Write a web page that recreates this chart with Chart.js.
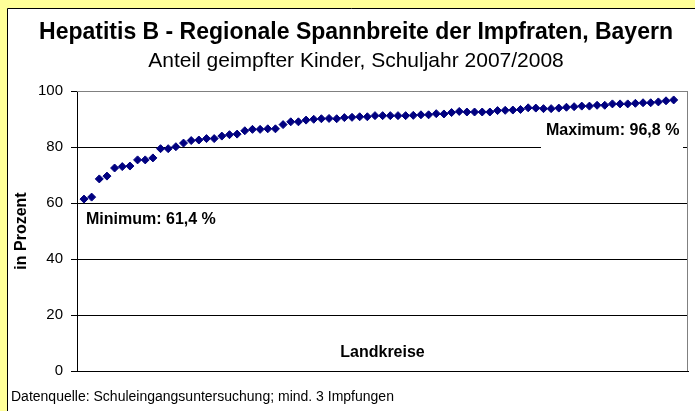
<!DOCTYPE html>
<html>
<head>
<meta charset="utf-8">
<script src="https://cdn.jsdelivr.net/npm/chart.js@4"></script>
<style>
  html, body { margin: 0; padding: 0; background: #ffff99; }
  #wrap { width: 695px; height: 411px; }
</style>
</head>
<body>
<div id="wrap"><canvas id="impfChart" width="695" height="411"></canvas></div>
<script>
// Impfraten je Landkreis, aufsteigend sortiert (Prozent)
const impfraten = [
    61.4, 62.1, 68.6, 69.6, 72.5, 73.0, 73.2, 75.4, 75.4, 76.1,
    79.4, 79.4, 80.1, 81.4, 82.3, 82.5, 83.0, 83.0, 83.9, 84.4,
    84.6, 85.8, 86.3, 86.3, 86.5, 86.5, 88.0, 89.0, 89.0, 89.6,
    89.9, 90.1, 90.2, 90.1, 90.5, 90.6, 90.8, 90.8, 91.2, 91.2,
    91.2, 91.2, 91.2, 91.3, 91.5, 91.5, 91.9, 91.8, 92.3, 92.7,
    92.5, 92.5, 92.5, 92.5, 93.0, 93.1, 93.2, 93.4, 94.0, 93.9,
    93.7, 93.7, 93.9, 94.2, 94.4, 94.6, 94.6, 94.9, 94.9, 95.4,
    95.4, 95.4, 95.6, 95.8, 95.8, 96.1, 96.5, 96.8
];
const yTicks = [0, 20, 40, 60, 80, 100];

const titel = 'Hepatitis B - Regionale Spannbreite der Impfraten, Bayern';
const untertitel = 'Anteil geimpfter Kinder, Schuljahr 2007/2008';
const quelle = 'Datenquelle: Schuleingangsuntersuchung; mind. 3 Impfungen';
const minText = 'Minimum: 61,4 %';
const maxText = 'Maximum: 96,8 %';

const FONT = 'Liberation Sans, Arial, sans-serif';

// Rahmen, Titel und Beschriftungen
const rahmenPlugin = {
    id: 'rahmen',
    beforeDraw(chart) {
        const ctx = chart.ctx;
        ctx.save();
        ctx.fillStyle = '#ffff99';
        ctx.fillRect(0, 0, chart.width, chart.height);
        ctx.fillStyle = '#ffffff';
        ctx.fillRect(7, 8, chart.width, chart.height);
        ctx.strokeStyle = '#000000';
        ctx.lineWidth = 1;
        ctx.beginPath();
        ctx.moveTo(7.5, chart.height);
        ctx.lineTo(7.5, 8.5);
        ctx.lineTo(chart.width, 8.5);
        ctx.stroke();

        ctx.fillStyle = '#000000';
        ctx.textAlign = 'center';
        ctx.textBaseline = 'middle';
        ctx.font = 'bold 23px ' + FONT;
        ctx.fillText(titel, 356, 33);
        ctx.font = '21px ' + FONT;
        ctx.fillText(untertitel, 356, 61);
        ctx.textAlign = 'left';
        ctx.font = '14px ' + FONT;
        ctx.fillText(quelle, 11, 397);
        ctx.restore();
    },
    beforeDatasetsDraw(chart) {
        const ctx = chart.ctx;
        const a = chart.chartArea;
        ctx.save();
        // Rahmen der Zeichenfläche oben und rechts
        ctx.strokeStyle = '#808080';
        ctx.lineWidth = 1;
        ctx.beginPath();
        ctx.moveTo(a.left, Math.round(a.top) + 0.5);
        ctx.lineTo(Math.round(a.right) - 0.5, Math.round(a.top) + 0.5);
        ctx.lineTo(Math.round(a.right) - 0.5, a.bottom);
        ctx.stroke();

        ctx.fillStyle = '#ffffff';
        ctx.fillRect(541, 117, 142, 33);
        ctx.fillStyle = '#000000';
        ctx.font = 'bold 16px ' + FONT;
        ctx.textBaseline = 'middle';
        ctx.textAlign = 'left';
        ctx.fillText(maxText, 546, 131);
        ctx.fillText(minText, 86, 220);
        ctx.textAlign = 'center';
        ctx.fillText('Landkreise', (a.left + a.right) / 2, 353);
        ctx.restore();
    }
};

const ctx = document.getElementById('impfChart').getContext('2d');

new Chart(ctx, {
    type: 'scatter',
    data: {
        datasets: [{
            label: 'Impfrate',
            data: impfraten.map((wert, i) => ({ x: i + 1, y: wert })),
            pointStyle: 'rectRot',
            pointRadius: 4,
            pointBorderWidth: 1,
            backgroundColor: '#000080',
            borderColor: '#000080',
            showLine: false
        }]
    },
    options: {
        responsive: false,
        animation: false,
        devicePixelRatio: 1,
        layout: { padding: { top: 91, left: 0, right: 7, bottom: 40 } },
        plugins: {
            legend: { display: false },
            tooltip: { enabled: false }
        },
        scales: {
            x: {
                type: 'linear',
                min: 0.09,
                max: 79.87,
                ticks: { display: false },
                grid: { display: false },
                border: { display: true, color: '#000000', width: 1 },
                afterFit: scale => { scale.height = 0; }
            },
            y: {
                min: 0,
                max: 100,
                afterBuildTicks: scale => { scale.ticks = yTicks.map(v => ({ value: v })); },
                ticks: {
                    color: '#000000',
                    padding: 8,
                    font: { family: FONT, size: 15 }
                },
                grid: {
                    color: c => (c.tick && c.tick.value === 100 ? '#808080' : '#000000'),
                    tickColor: '#000000',
                    tickLength: 6,
                    lineWidth: 1
                },
                border: { display: true, color: '#000000', width: 1 },
                title: {
                    display: true,
                    text: 'in Prozent',
                    color: '#000000',
                    font: { family: FONT, size: 16, weight: 'bold' },
                    padding: { top: 12, bottom: 0 }
                },
                afterFit: scale => { scale.width = 77; }
            }
        }
    },
    plugins: [rahmenPlugin]
});
</script>
</body>
</html>
